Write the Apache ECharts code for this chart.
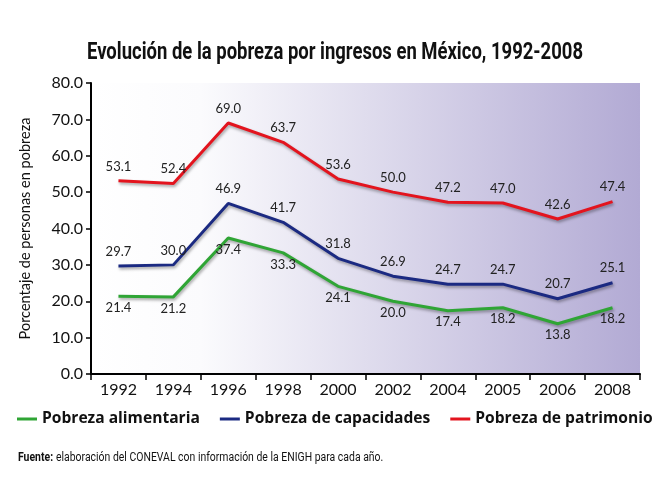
<!DOCTYPE html>
<html>
<head>
<meta charset="utf-8">
<script src="https://cdn.jsdelivr.net/npm/echarts@6/dist/echarts.min.js"></script>
<style>
html,body{margin:0;padding:0;background:#fff;}
#c{width:665px;height:499px;}
</style>
</head>
<body>
<div id="c"></div>
<script>
var years = ['1992','1994','1996','1998','2000','2002','2004','2005','2006','2008'];
var alimentaria = [21.4, 21.2, 37.4, 33.3, 24.1, 20.0, 17.4, 18.2, 13.8, 18.2];
var capacidades = [29.7, 30.0, 46.9, 41.7, 31.8, 26.9, 24.7, 24.7, 20.7, 25.1];
var patrimonio = [53.1, 52.4, 69.0, 63.7, 53.6, 50.0, 47.2, 47.0, 42.6, 47.4];
var seriesNames = ['Pobreza alimentaria', 'Pobreza de capacidades', 'Pobreza de patrimonio'];
var titleText = 'Evolución de la pobreza por ingresos en México, 1992-2008';
var sourceBold = 'Fuente:';
var sourceText = 'elaboración del CONEVAL con información de la ENIGH para cada año.';

var ctx = document.createElement('canvas').getContext('2d');
function measure(font, s){ ctx.font = font; return ctx.measureText(s).width; }
var titleFont = 'bold 24px Roboto';
var titleScale = 496 / measure(titleFont, titleText);
var srcFontB = 'bold 12px Roboto', srcFontN = '12px Roboto';
var srcW = measure(srcFontB, sourceBold + ' ') + measure(srcFontN, sourceText);
var srcScale = 365 / srcW;

var chart = echarts.init(document.getElementById('c'));
var shadow = {shadowColor:'rgba(0,0,0,0.35)', shadowBlur:3, shadowOffsetX:1, shadowOffsetY:2};
function mk(name, data, color, pos, dist){
  return {
    name:name, type:'line', data:data, symbol:'circle', symbolSize:0, showSymbol:true, smooth:false,
    lineStyle:Object.assign({color:color, width:3}, shadow),
    itemStyle:{color:color},
    label:{show:true, position:pos, distance:dist, color:'#222', fontFamily:'Lato', fontSize:13,
      formatter:function(p){return Number(p.value).toFixed(1);}}
  };
}
chart.setOption({
  animation:false,
  grid:{left:91, right:25, top:83, bottom:125, show:true, borderWidth:0,
    backgroundColor:{type:'linear', x:0, y:0, x2:1, y2:0,
      colorStops:[{offset:0,color:'#ffffff'},{offset:0.2,color:'#fbfbfd'},{offset:1,color:'#b2aad4'}]}},
  legend:{top:411, left:17, width:660, padding:0, itemGap:20, itemWidth:20, itemHeight:3, icon:'rect',
    textStyle:{fontFamily:'Open Sans', fontWeight:'bold', fontSize:15.6, color:'#111'},
    data:seriesNames},
  xAxis:{type:'category', data:years, boundaryGap:true,
    axisLine:{lineStyle:{color:'#000', width:2}},
    axisTick:{show:true, length:6, lineStyle:{color:'#000', width:1.5}},
    axisLabel:{color:'#111', fontFamily:'Lato', fontSize:16, margin:8}},
  yAxis:{type:'value', min:0, max:80, interval:10,
    name:'Porcentaje de personas en pobreza', nameLocation:'middle', nameGap:58, nameRotate:90,
    nameTextStyle:{fontFamily:'Lato', fontSize:14.5, color:'#111'},
    axisLine:{show:true, lineStyle:{color:'#000', width:2}},
    axisTick:{show:true, length:5, inside:false, lineStyle:{color:'#000', width:1.5}},
    splitLine:{show:false},
    axisLabel:{color:'#111', fontFamily:'Lato', fontSize:16, margin:8,
      formatter:function(v){return v.toFixed(1);}}},
  series:[
    mk(seriesNames[0], alimentaria, '#2fa535', 'bottom', 5),
    mk(seriesNames[1], capacidades, '#1b2a82', 'top', 8),
    mk(seriesNames[2], patrimonio, '#e3141e', 'top', 8)
  ],
  graphic:[
    {type:'text', x:335, y:53, scaleX:titleScale,
      style:{text:titleText, font:titleFont, fill:'#111', textAlign:'center', textVerticalAlign:'middle'}},
    {type:'text', x:18, y:458, scaleX:srcScale,
      style:{rich:{b:{font:srcFontB, fill:'#111'}, n:{font:srcFontN, fill:'#111'}},
        text:'{b|' + sourceBold + '} {n|' + sourceText + '}', textVerticalAlign:'middle'}}
  ]
});
</script>
</body>
</html>
